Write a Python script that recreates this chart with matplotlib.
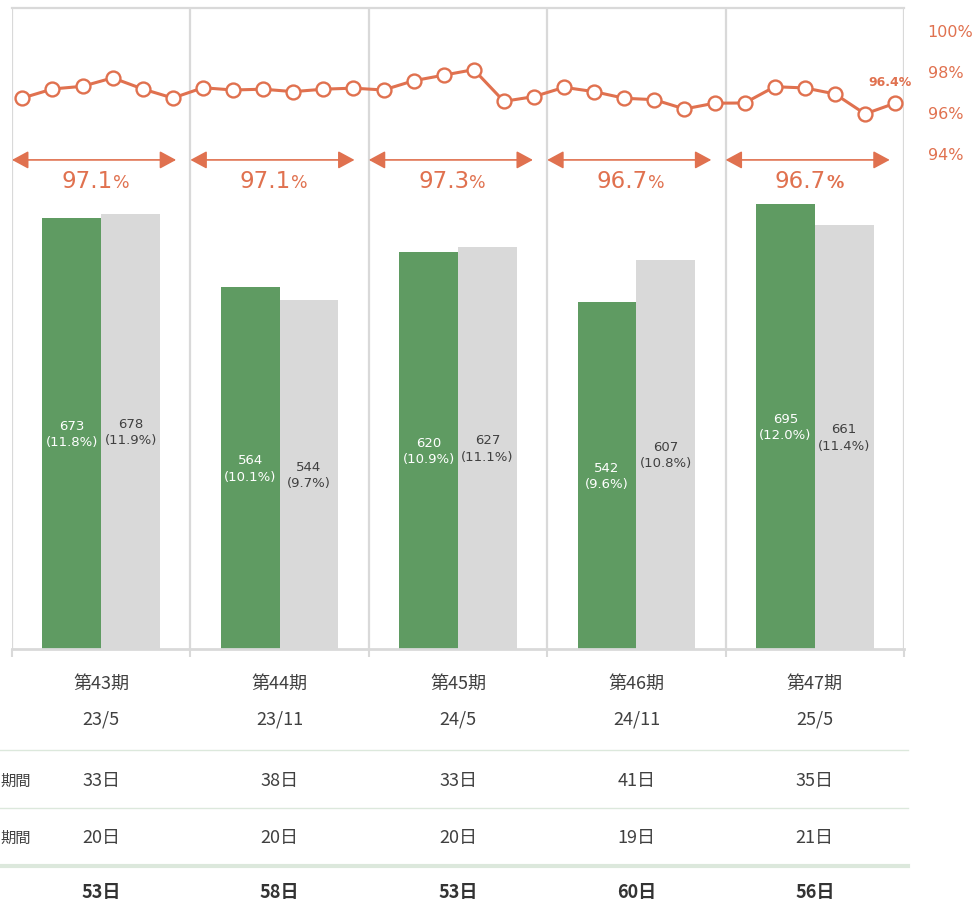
import matplotlib.pyplot as plt
import numpy as np
from matplotlib.lines import Line2D
from matplotlib.transforms import blended_transform_factory

plt.rcParams['font.family'] = ['DejaVu Sans', 'Noto Sans CJK JP']

# data
periods = ['第43期', '第44期', '第45期', '第46期', '第47期']
dates = ['23/5', '23/11', '24/5', '24/11', '25/5']
green_vals = [673, 564, 620, 542, 695]
green_pct = ['11.8%', '10.1%', '10.9%', '9.6%', '12.0%']
gray_vals = [678, 544, 627, 607, 661]
gray_pct = ['11.9%', '9.7%', '11.1%', '10.8%', '11.4%']
avg_rate = ['97.1', '97.1', '97.3', '96.7', '96.7']
monthly_rate = [96.68, 97.12, 97.25, 97.66, 97.12, 96.68,
                97.18, 97.07, 97.11, 96.99, 97.11, 97.16,
                97.07, 97.52, 97.79, 98.06, 96.52, 96.75,
                97.20, 96.99, 96.67, 96.60, 96.15, 96.43,
                96.44, 97.23, 97.17, 96.88, 95.91, 96.43]
last_label = '96.4%'
rate_ticks = [94, 96, 98, 100]
row_labels = ['期間', '期間']
row1_days = [33, 38, 33, 41, 35]
row2_days = [20, 20, 20, 19, 21]
total_days = [53, 58, 53, 60, 56]

ORANGE = '#E0714F'
GREEN = '#5F9B62'
GRAY = '#D9D9D9'
LINE = '#D9D9D9'
TXT = '#404040'

W, H = 974, 903
fig = plt.figure(figsize=(W / 100, H / 100), dpi=100)
ax = fig.add_axes([12 / W, (H - 650) / H, 892 / W, 641 / H])

x = np.arange(len(periods))
bw = 0.33
ax.bar(x - bw / 2, green_vals, bw, color=GREEN, zorder=2)
ax.bar(x + bw / 2, gray_vals, bw, color=GRAY, zorder=2)

for i in x:
    ax.text(i - bw / 2, green_vals[i] / 2, f'{green_vals[i]}\n({green_pct[i]})',
            ha='center', va='center', color='white', fontsize=9.5, linespacing=1.35, zorder=3)
    ax.text(i + bw / 2, gray_vals[i] / 2, f'{gray_vals[i]}\n({gray_pct[i]})',
            ha='center', va='center', color=TXT, fontsize=9.5, linespacing=1.35, zorder=3)

ax.set_xlim(-0.5, 4.5)
ax.set_ylim(0, 1000)
for d in np.arange(-0.5, 5, 1):
    ax.axvline(d, color=LINE, lw=1.6, zorder=1)
for s in ['left', 'right']:
    ax.spines[s].set_visible(False)
ax.spines['top'].set_color(LINE)
ax.spines['top'].set_linewidth(1.6)
ax.spines['bottom'].set_color(LINE)
ax.spines['bottom'].set_linewidth(2)
ax.set_yticks([])
ax.set_xticks(np.arange(-0.5, 5, 1))
ax.set_xticklabels([])
ax.tick_params(axis='x', length=6, width=1.5, color=LINE)

# period labels under the axis
tr = blended_transform_factory(ax.transData, fig.transFigure)
for i in x:
    ax.text(i, 1 - 684 / H, periods[i], transform=tr, ha='center', va='center',
            fontsize=13, color=TXT, family='Noto Sans CJK JP')
    ax.text(i, 1 - 719 / H, dates[i], transform=tr, ha='center', va='center',
            fontsize=13, color=TXT, family='Noto Sans CJK JP')

# rate line on a twin axis
ax2 = ax.twinx()
ax2.set_ylim(69.94, 101.05)
for s in ax2.spines.values():
    s.set_visible(False)
ax2.set_yticks(rate_ticks)
ax2.set_yticklabels([f'{t}%' for t in rate_ticks])
ax2.tick_params(axis='y', length=0, pad=17, labelsize=11.5, labelcolor=ORANGE)
px = -0.442 + np.arange(len(monthly_rate)) * 0.1687
ax2.plot(px, monthly_rate, color=ORANGE, lw=2.2, marker='o', ms=10,
         mfc='white', mec=ORANGE, mew=1.7, zorder=4)
ax2.text(px[-1] - 0.03, monthly_rate[-1] + 1.05, last_label, ha='center', va='center',
         fontsize=9, fontweight='bold', color=ORANGE)

# period average arrows
for i in x:
    ax.annotate('', xy=(i + 0.42, 763), xytext=(i - 0.5, 763),
                arrowprops=dict(arrowstyle='<|-|>,head_length=0.5,head_width=0.27',
                                mutation_scale=20, color=ORANGE, lw=1.2,
                                shrinkA=0, shrinkB=0))
    c = i - 0.03
    ax.annotate(avg_rate[i], xy=(c, 721), xytext=(12, 0), textcoords='offset points',
                ha='right', va='baseline', fontsize=16.5, color=ORANGE)
    ax.annotate('%', xy=(c, 721), xytext=(12, 0), textcoords='offset points',
                ha='left', va='baseline', fontsize=12.5, color=ORANGE,
                fontweight='bold' if i == 4 else 'normal')

# table below the chart
for yy, lw in [(751, 1), (809, 1), (867, 3)]:
    fig.add_artist(Line2D([0, 908 / W], [1 - yy / H] * 2, color='#DCE8DC', lw=lw))
for j, lab in enumerate(row_labels):
    fig.text(31 / W, 1 - (781 + 57 * j) / H, lab, ha='right', va='center',
             fontsize=11, color=TXT, family='Noto Sans CJK JP')
for i in x:
    ax.text(i, 1 - 781 / H, f'{row1_days[i]}日', transform=tr, ha='center', va='center',
            fontsize=13, color=TXT, family='Noto Sans CJK JP')
    ax.text(i, 1 - 838 / H, f'{row2_days[i]}日', transform=tr, ha='center', va='center',
            fontsize=13, color=TXT, family='Noto Sans CJK JP')
    ax.text(i, 1 - 893 / H, f'{total_days[i]}日', transform=tr, ha='center', va='center',
            fontsize=13, color='#333333', fontweight='bold', family='Noto Sans CJK JP')

fig.savefig('out.png', dpi=100)
